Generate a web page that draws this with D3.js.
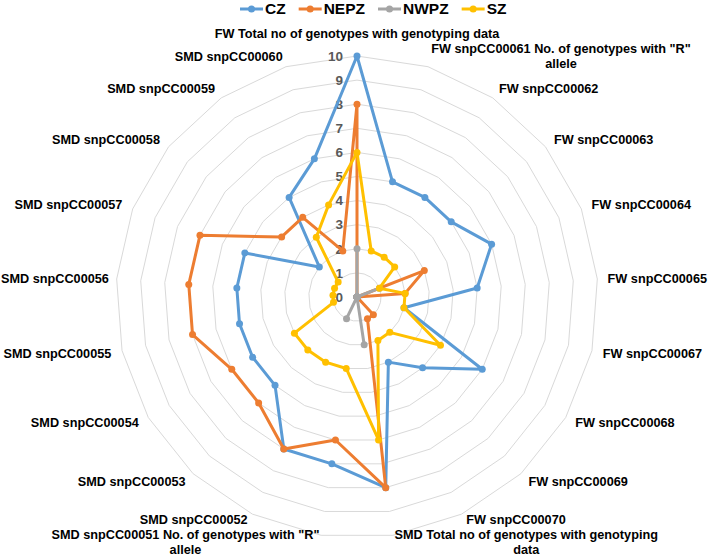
<!DOCTYPE html>
<html lang="en">
<head>
  <meta charset="UTF-8">
  <title>Radar - CZ / NEPZ / NWPZ / SZ</title>
  <script src="https://cdnjs.cloudflare.com/ajax/libs/d3/7.8.5/d3.min.js"></script>
  <style>
    body { margin: 0; background: #fff; }
    svg { font-family: "Liberation Sans", Arial, sans-serif; }
    .grid { fill: none; stroke: #d9d9d9; stroke-width: 1; }
    .axis-label { font-size: 12.7px; font-weight: bold; fill: #000; }
    .tick { font-size: 13.5px; font-weight: bold; fill: #595959; text-anchor: end; }
    .legend text { font-size: 15.5px; font-weight: bold; fill: #000; }
    .series path { fill: none; stroke-width: 3; stroke-linejoin: round; }
  </style>
</head>
<body>
  <svg width="708" height="558"></svg>
  <script>
    // categories, clockwise from top
    var categories = [
      'FW Total no of genotypes with genotyping data',
      'FW snpCC00061 No. of genotypes with "R" allele',
      'FW snpCC00062', 'FW snpCC00063', 'FW snpCC00064', 'FW snpCC00065',
      'FW snpCC00067', 'FW snpCC00068', 'FW snpCC00069', 'FW snpCC00070',
      'SMD Total no of genotypes with genotyping data',
      'SMD snpCC00051 No. of genotypes with "R" allele',
      'SMD snpCC00052', 'SMD snpCC00053', 'SMD snpCC00054', 'SMD snpCC00055',
      'SMD snpCC00056', 'SMD snpCC00057', 'SMD snpCC00058', 'SMD snpCC00059',
      'SMD snpCC00060'
    ]
    var seriesNames = ['CZ', 'NEPZ', 'NWPZ', 'SZ']
    var colors = ['#5b9bd5', '#ed7d31', '#a5a5a5', '#ffc000']

    var cz   = [10, 5, 5, 5, 6, 5, 2, 6, 4, 3, 8, 7, 7, 5, 5, 5, 5, 5, 2, 5, 6]
    var nepz = [8, 0, 0, 0, 3, 2, 0, 0, 1, 1, 8, 6, 7, 6, 6, 7, 7, 7, 4, 4, 2]
    var nwpz = [2, 0, 0, 0, 1, 0, 0, 0, 0, 0, 2, 0, 1, 0, 0, 0, 0, 0, 0, 0, 0]
    var sz   = [6, 2, 2, 2, 1, 2, 2, 4, 2, 2, 6, 3, 3, 3, 3, 1, 1, 1, 1, 3, 4]

    var tickValues = [0, 1, 2, 3, 4, 5, 6, 7, 8, 9, 10]

    var series = [cz, nepz, nwpz, sz]
    var n = categories.length
    var W = 708, H = 558
    var cx = 357, cy = 297

    var svg = d3.select('svg')
    var g = svg.append('g').attr('transform', 'translate(' + cx + ',' + cy + ')')

    var r = d3.scaleLinear().domain([0, 10]).range([0, 241])
    var angle = d3.scaleLinear().domain([0, n]).range([0, 2 * Math.PI])

    function pt(i, v) {
      var a = angle(i)
      return [r(v) * Math.sin(a), -r(v) * Math.cos(a)]
    }

    // grid rings
    var ring = d3.lineRadial()
      .angle(function (d, i) { return angle(i) })
      .radius(function (d) { return r(d) })
      .curve(d3.curveLinearClosed)

    g.selectAll('.grid')
      .data(tickValues.filter(function (t) { return t > 0 }))
      .enter().append('path')
      .attr('class', 'grid')
      .attr('d', function (t) { return ring(categories.map(function () { return t })) })

    // tick labels
    g.selectAll('.tick')
      .data(tickValues)
      .enter().append('text')
      .attr('class', 'tick')
      .attr('x', -14)
      .attr('y', function (t) { return -r(t) })
      .attr('dy', '0.35em')
      .text(function (t) { return t })

    // series
    var line = d3.lineRadial()
      .angle(function (d, i) { return angle(i) })
      .radius(function (d) { return r(d) })
      .curve(d3.curveLinearClosed)

    var sg = g.selectAll('.series')
      .data(series)
      .enter().append('g')
      .attr('class', 'series')

    sg.append('path')
      .attr('d', function (d) { return line(d) })
      .attr('stroke', function (d, i) { return colors[i] })

    sg.each(function (d, si) {
      d3.select(this).selectAll('circle')
        .data(d)
        .enter().append('circle')
        .attr('cx', function (v, i) { return pt(i, v)[0] })
        .attr('cy', function (v, i) { return pt(i, v)[1] })
        .attr('r', 3.5)
        .attr('fill', colors[si])
    })

    // category labels
    var labelR = 252
    var lineH = 15

    function wrap(text, maxW) {
      var probe = g.append('text').attr('class', 'axis-label')
      var words = text.split(' ')
      var lines = []
      var cur = ''
      words.forEach(function (w) {
        var test = cur ? cur + ' ' + w : w
        probe.text(test)
        if (probe.node().getComputedTextLength() > maxW && cur) {
          lines.push(cur)
          cur = w
        } else {
          cur = test
        }
      })
      lines.push(cur)
      var widths = lines.map(function (l) { probe.text(l); return probe.node().getComputedTextLength() })
      probe.remove()
      return { lines: lines, width: d3.max(widths) }
    }

    // lay out every label box first (absolute coords)
    var boxes = categories.map(function (c, i) {
      var a = angle(i)
      var s = Math.sin(a)
      var px = cx + labelR * s
      var py = cy - labelR * Math.cos(a)
      var top = Math.abs(s) < 0.01
      var w = wrap(c, top ? 320 : 270)
      var h = w.lines.length * lineH
      var x1, y1
      if (top) {
        x1 = px - w.width / 2
        y1 = py - h
      } else {
        x1 = s > 0 ? px : px - w.width
        y1 = py - h / 2
      }
      // keep the block inside the picture
      x1 = Math.max(1, Math.min(W - 1 - w.width, x1))
      y1 = Math.min(H - 1 - h, y1)
      return { i: i, lines: w.lines, w: w.width, h: h, x1: x1, y1: y1 }
    })

    // bottom labels stay put, neighbours get pushed upward if they collide
    var placed = []
    boxes.slice().sort(function (a, b) { return b.h - a.h }).forEach(function (b) {
      placed.forEach(function (p) {
        var ox = Math.min(b.x1 + b.w, p.x1 + p.w) - Math.max(b.x1, p.x1)
        var oy = (b.y1 + b.h) - p.y1
        if (ox > 0 && oy > 0 && b.y1 < p.y1) b.y1 -= oy
      })
      placed.push(b)
    })

    boxes.forEach(function (b) {
      var t = svg.append('text')
        .attr('class', 'axis-label')
        .attr('text-anchor', 'middle')
      b.lines.forEach(function (l, k) {
        t.append('tspan')
          .attr('x', b.x1 + b.w / 2)
          .attr('y', b.y1 + k * lineH + lineH / 2)
          .attr('dy', '0.35em')
          .text(l)
      })
    })

    // legend
    var legend = svg.append('g').attr('class', 'legend').attr('transform', 'translate(240,9)')
    var lx = 0
    seriesNames.forEach(function (name, i) {
      var item = legend.append('g').attr('transform', 'translate(' + lx + ',0)')
      item.append('line')
        .attr('x1', 0).attr('x2', 23).attr('y1', 0).attr('y2', 0)
        .attr('stroke', colors[i]).attr('stroke-width', 3)
      item.append('circle').attr('cx', 11.5).attr('cy', 0).attr('r', 3.5).attr('fill', colors[i])
      var txt = item.append('text').attr('x', 25).attr('dy', '0.35em').text(name)
      lx += 25 + txt.node().getComputedTextLength() + 13
    })
  </script>
</body>
</html>
